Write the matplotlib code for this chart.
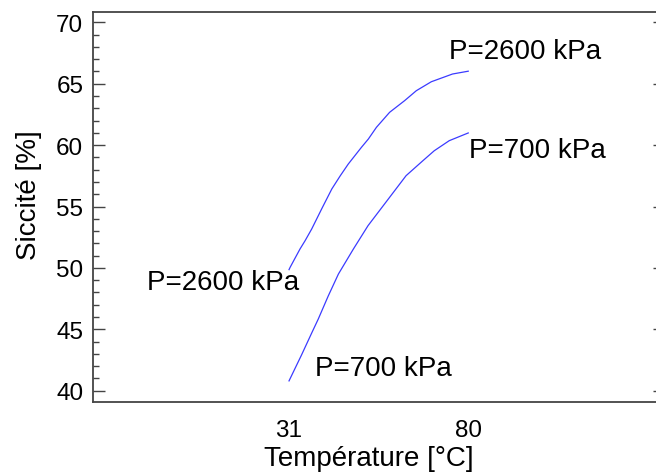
import numpy as np
import matplotlib.pyplot as plt

plt.rcParams['font.family'] = ['Liberation Sans', 'DejaVu Sans']

# =====================================================
# Data
# =====================================================
temp_2600 = [31.0, 31.3, 34.0, 35.4, 37.2, 40.0, 42.7, 45.0, 47.2, 50.8,
             52.7, 54.9, 58.5, 62.6, 65.8, 69.9, 75.7, 80.0]
sicc_2600 = [49.86, 50.05, 51.54, 52.22, 53.17, 54.85, 56.43, 57.5, 58.46,
             59.82, 60.5, 61.45, 62.67, 63.62, 64.43, 65.16, 65.79, 66.02]

temp_700 = [31.0, 34.4, 37.2, 39.0, 41.7, 44.5, 48.6, 52.6, 57.1, 63.0,
            67.6, 70.7, 74.8, 80.0]
sicc_700 = [40.8, 42.9, 44.7, 45.84, 47.7, 49.5, 51.54, 53.44, 55.2, 57.51,
            58.73, 59.54, 60.36, 60.99]

x_ticks = [31, 80]
y_ticks = [40, 45, 50, 55, 60, 65, 70]

# curve labels: (x, y, text)
labels = [
    (74.8, 67.66, "P=2600 kPa"),
    (80.3, 59.6, "P=700 kPa"),
    (-7.7, 48.89, "P=2600 kPa"),
    (38.1, 41.85, "P=700 kPa"),
]

# =====================================================
# Plot
# =====================================================
fig = plt.figure(figsize=(6.56, 4.77), dpi=100)
ax = fig.add_axes([93 / 656, 1 - 403 / 477, 572 / 656, 390 / 477])

line_color = "#3b3bff"
ax.plot(temp_2600, sicc_2600, color=line_color, lw=0.9)
ax.plot(temp_700, sicc_700, color=line_color, lw=0.9)

for x, y, s in labels:
    ax.text(x, y, s, fontsize=20, ha="left", va="center", color="black")

ax.set_xlim(-22.6, 133.8)
ax.set_ylim(39.08, 70.84)

ax.set_xticks(x_ticks)
ax.set_yticks(y_ticks)
ax.set_yticks(np.arange(40, 71, 1), minor=True)

ax.tick_params(axis="x", length=0, pad=12, labelsize=17.5)
ax.tick_params(axis="y", which="major", direction="in", length=8.5,
               width=1.0, color="#444444", right=True, labelsize=17.5, pad=7)
ax.tick_params(axis="y", which="minor", direction="in", length=4.5,
               width=1.0, color="#444444", right=True)

for sp in ax.spines.values():
    sp.set_color("#444444")
    sp.set_linewidth(1.3)

ax.set_xlabel("Température [°C]", fontsize=20)
ax.set_ylabel("Siccité [%]", fontsize=20)
ax.xaxis.set_label_coords((369 - 93) / 572, -(446 - 403) / 390)
ax.yaxis.set_label_coords(-(93 - 42) / 572, (403 - 195) / 390)

fig.savefig("out.png", dpi=100)
